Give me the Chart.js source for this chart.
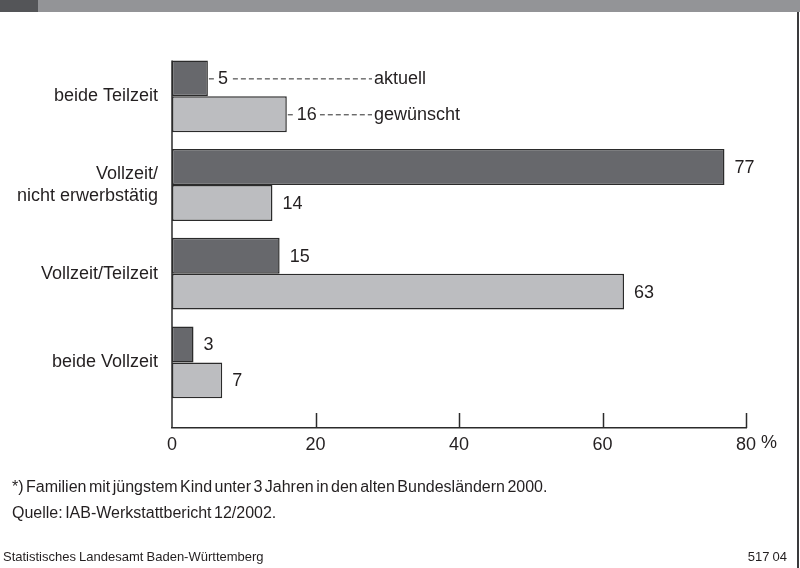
<!DOCTYPE html>
<html>
<head>
<meta charset="utf-8">
<script src="https://cdn.jsdelivr.net/npm/chart.js@4/dist/chart.umd.min.js"></script>
<style>
  body { margin: 0; background: #fff; }
  #wrap { position: relative; width: 800px; height: 568px; overflow: hidden; font-family: "Liberation Sans", Arial, sans-serif; color: #231f20; }
  #band { position: absolute; left: 0; top: 0; width: 800px; height: 12px; background: #939497; }
  #block { position: absolute; left: 0; top: 0; width: 38px; height: 12px; background: #545558; }
  #rule { position: absolute; left: 797px; top: 12px; width: 2px; height: 556px; background: #3a3a3c; }
  canvas { position: absolute; left: 0; top: 0; }
  .note { position: absolute; left: 12px; font-size: 16px; word-spacing: -2px; white-space: nowrap; }
  .foot { position: absolute; font-size: 13px; word-spacing: -0.5px; white-space: nowrap; }
</style>
</head>
<body>
<div id="wrap">
  <div id="band"></div>
  <div id="block"></div>
  <div id="rule"></div>
  <canvas id="chart" width="800" height="568"></canvas>
  <div class="note" style="top:478px">*) Familien mit jüngstem Kind unter 3 Jahren in den alten Bundesländern 2000.</div>
  <div class="note" style="top:504px">Quelle: IAB-Werkstattbericht 12/2002.</div>
  <div class="foot" style="left:3px; top:549px">Statistisches Landesamt Baden-Württemberg</div>
  <div class="foot" style="right:13px; top:549px">517 04</div>
</div>
<script>
const categories = ['beide Teilzeit', 'Vollzeit/\nnicht erwerbstätig', 'Vollzeit/Teilzeit', 'beide Vollzeit'];
const seriesNames = ['aktuell', 'gewünscht'];
const aktuell = [5, 77, 15, 3];
const gewuenscht = [16, 14, 63, 7];
const xTicks = [0, 20, 40, 60, 80];
const unit = '%';

const ink = '#231f20';
const lineCol = '#2b2b2b';
const font = '"Liberation Sans", Arial, sans-serif';

// value labels, the dashed legend leaders and the axis marks
const extras = {
  id: 'extras',
  afterDatasetsDraw(chart) {
    const ctx = chart.ctx;
    const xs = chart.scales.x;
    const area = chart.chartArea;
    ctx.save();
    ctx.font = '18px ' + font;
    ctx.textBaseline = 'middle';
    ctx.textAlign = 'left';

    chart.data.datasets.forEach((ds, d) => {
      const meta = chart.getDatasetMeta(d);
      meta.data.forEach((bar, i) => {
        const txt = String(ds.data[i].x);
        const tx = bar.x + 10;
        if (i === 0) {
          const legendX = 374;
          ctx.strokeStyle = lineCol;
          ctx.lineWidth = 1;
          ctx.setLineDash([5, 3]);
          ctx.beginPath();
          ctx.moveTo(bar.x + 1, bar.y + 0.5);
          ctx.lineTo(legendX - 2, bar.y + 0.5);
          ctx.stroke();
          ctx.setLineDash([]);
          const w = ctx.measureText(txt).width;
          ctx.fillStyle = '#fff';
          ctx.fillRect(tx - 3, bar.y - 9, w + 6, 18);
          ctx.fillStyle = ink;
          ctx.fillText(seriesNames[d], legendX, bar.y + 1);
        }
        ctx.fillStyle = ink;
        ctx.fillText(txt, tx, bar.y + 1);
      });
    });

    // left axis line from first bar top down to the x axis
    const firstTop = chart.getDatasetMeta(0).data[0];
    const top = firstTop.y - firstTop.height / 2;
    ctx.strokeStyle = lineCol;
    ctx.lineWidth = 1.5;
    ctx.beginPath();
    ctx.moveTo(area.left, top);
    ctx.lineTo(area.left, area.bottom);
    ctx.stroke();

    // tick marks point up into the plot
    xTicks.forEach(v => {
      if (v === 0) return;
      const px = Math.round(xs.getPixelForValue(v)) + 0.5;
      ctx.beginPath();
      ctx.moveTo(px, area.bottom - 15);
      ctx.lineTo(px, area.bottom);
      ctx.stroke();
    });

    // unit after the last tick label
    const last = xTicks[xTicks.length - 1];
    const lw = ctx.measureText(String(last)).width;
    ctx.fillStyle = ink;
    ctx.textBaseline = 'top';
    ctx.fillText(' ' + unit, xs.getPixelForValue(last) + lw / 2, area.bottom + 6);
    ctx.restore();
  }
};

new Chart(document.getElementById('chart'), {
  type: 'bar',
  data: {
    datasets: [
      {
        label: seriesNames[0],
        data: aktuell.map((v, i) => ({ x: v, y: i })),
        backgroundColor: '#67686c',
        borderColor: lineCol,
        borderWidth: 1.5,
        borderSkipped: false
      },
      {
        label: seriesNames[1],
        data: gewuenscht.map((v, i) => ({ x: v, y: i })),
        backgroundColor: '#bcbdc0',
        borderColor: lineCol,
        borderWidth: 1.5,
        borderSkipped: false
      }
    ]
  },
  options: {
    indexAxis: 'y',
    responsive: false,
    animation: false,
    devicePixelRatio: 1,
    categoryPercentage: 0.81,
    barPercentage: 1,
    layout: { padding: { top: 52, right: 54, left: 0, bottom: 0 } },
    plugins: { legend: { display: false }, tooltip: { enabled: false } },
    scales: {
      x: {
        type: 'linear',
        min: 0,
        max: 80,
        grid: { display: false, drawTicks: false },
        border: { display: true, color: lineCol, width: 1.5 },
        ticks: { color: ink, font: { size: 18, family: font }, padding: 6, autoSkip: false, maxRotation: 0 },
        afterBuildTicks: s => { s.ticks = xTicks.map(v => ({ value: v })); },
        afterFit: s => { s.height = 140; }
      },
      y: {
        type: 'linear',
        reverse: true,
        offset: false,
        min: -0.5,
        max: 3.74,
        grid: { display: false, drawTicks: false, offset: false },
        border: { display: false },
        ticks: {
          color: ink,
          font: { size: 18, family: font },
          padding: 14,
          autoSkip: false,
          callback: v => categories[v].split('\n')
        },
        afterBuildTicks: s => { s.ticks = categories.map((_, i) => ({ value: i })); },
        afterFit: s => { s.width = 172; }
      }
    }
  },
  plugins: [extras]
});
</script>
</body>
</html>
